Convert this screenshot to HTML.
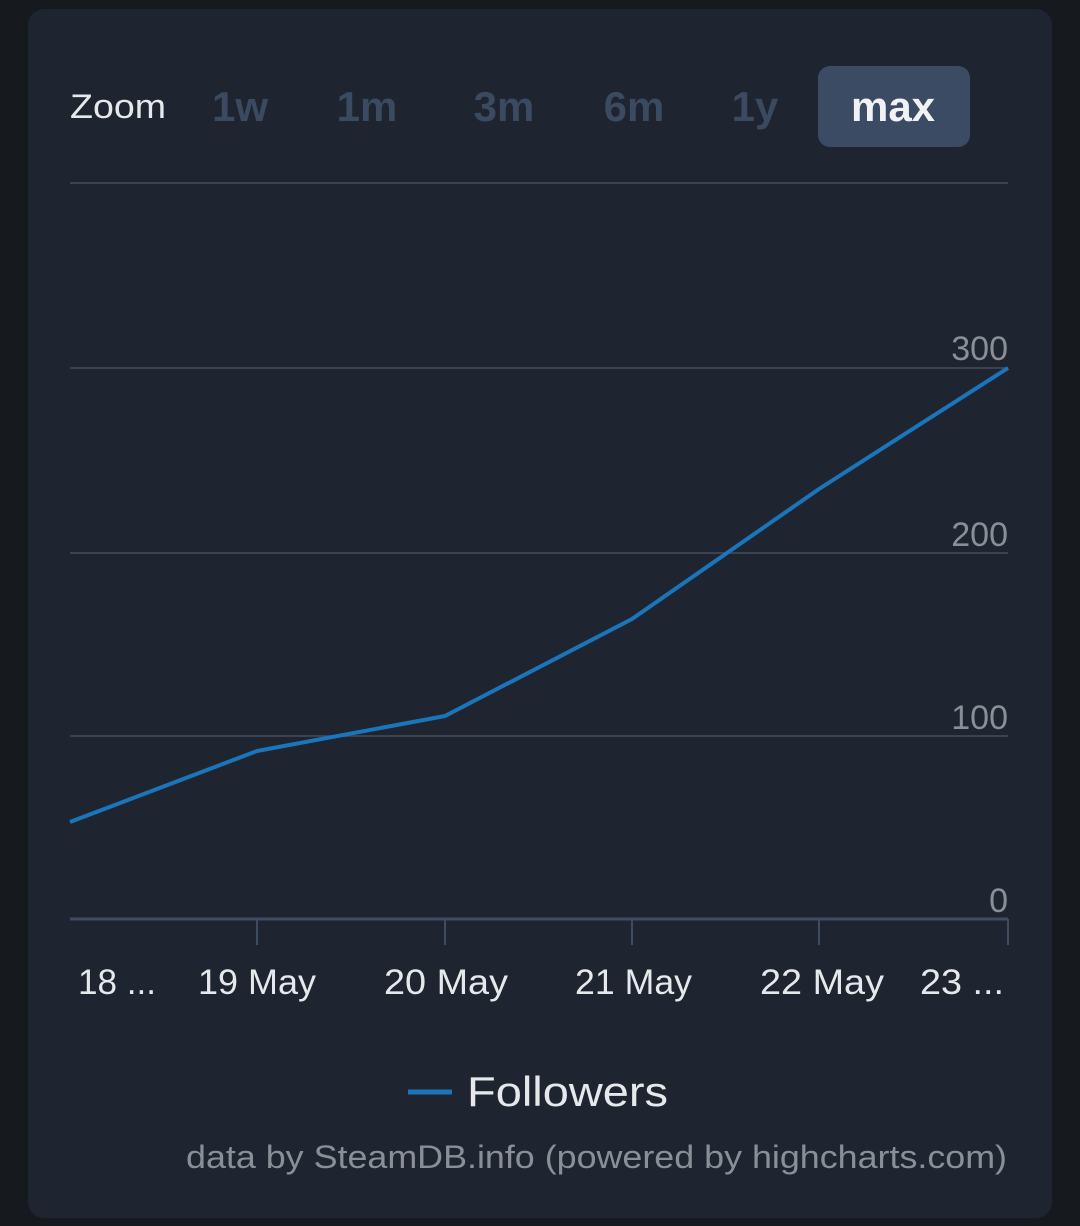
<!DOCTYPE html>
<html><head><style>
html,body{margin:0;padding:0;background:#16191e;width:1080px;height:1226px;overflow:hidden}
.card{position:absolute;left:28px;top:9px;width:1024px;height:1209px;background:#1f2530;border-radius:16px}
svg{position:absolute;left:0;top:0}
text{font-family:"Liberation Sans",sans-serif}
</style></head><body>
<div class="card"></div>
<svg width="1080" height="1226">
<text x="70" y="118" font-size="34" fill="#e6e8eb" textLength="96" lengthAdjust="spacingAndGlyphs">Zoom</text>
<g font-size="42" font-weight="bold" fill="#3a4a60" text-anchor="middle">
<text x="240" y="121">1w</text>
<text x="367" y="121">1m</text>
<text x="504" y="121">3m</text>
<text x="634" y="121">6m</text>
<text x="755" y="121">1y</text>
</g>
<rect x="818" y="66" width="152" height="81" rx="12" fill="#3a4b63"/>
<text x="893" y="121" font-size="42" font-weight="bold" fill="#f0f2f5" text-anchor="middle">max</text>
<g stroke="#3c434f" stroke-width="2">
<line x1="70" y1="183" x2="1008" y2="183"/>
<line x1="70" y1="368" x2="1008" y2="368"/>
<line x1="70" y1="553" x2="1008" y2="553"/>
<line x1="70" y1="736" x2="1008" y2="736"/>
</g>
<line x1="70" y1="919" x2="1008" y2="919" stroke="#3d4c62" stroke-width="3"/>
<g stroke="#3d4c62" stroke-width="2">
<line x1="257" y1="919" x2="257" y2="945"/><line x1="445" y1="919" x2="445" y2="945"/>
<line x1="632" y1="919" x2="632" y2="945"/><line x1="819" y1="919" x2="819" y2="945"/>
<line x1="1008" y1="919" x2="1008" y2="945"/>
</g>
<g font-size="34" fill="#8a8f97" text-anchor="end">
<text x="1008" y="360">300</text><text x="1008" y="546">200</text>
<text x="1008" y="729">100</text><text x="1008" y="912">0</text>
</g>
<polyline points="70,822 257,751 445,716 632,619 819,489 1008,368" fill="none" stroke="#1a75bb" stroke-width="4" stroke-linejoin="round"/>
<g font-size="35" fill="#e6e8eb">
<text x="78" y="994" textLength="78" lengthAdjust="spacingAndGlyphs">18 ...</text>
<text x="198" y="994" textLength="118" lengthAdjust="spacingAndGlyphs">19 May</text>
<text x="384" y="994" textLength="124" lengthAdjust="spacingAndGlyphs">20 May</text>
<text x="575" y="994" textLength="117" lengthAdjust="spacingAndGlyphs">21 May</text>
<text x="760" y="994" textLength="124" lengthAdjust="spacingAndGlyphs">22 May</text>
<text x="920" y="994" textLength="84" lengthAdjust="spacingAndGlyphs">23 ...</text>
</g>
<line x1="408" y1="1092" x2="452" y2="1092" stroke="#1a75bb" stroke-width="5"/>
<text x="467" y="1106" font-size="42" fill="#e6e8eb" textLength="201" lengthAdjust="spacingAndGlyphs">Followers</text>
<text x="186" y="1168" font-size="32" fill="#8a8f97" textLength="821" lengthAdjust="spacingAndGlyphs">data by SteamDB.info (powered by highcharts.com)</text>
</svg>
</body></html>
